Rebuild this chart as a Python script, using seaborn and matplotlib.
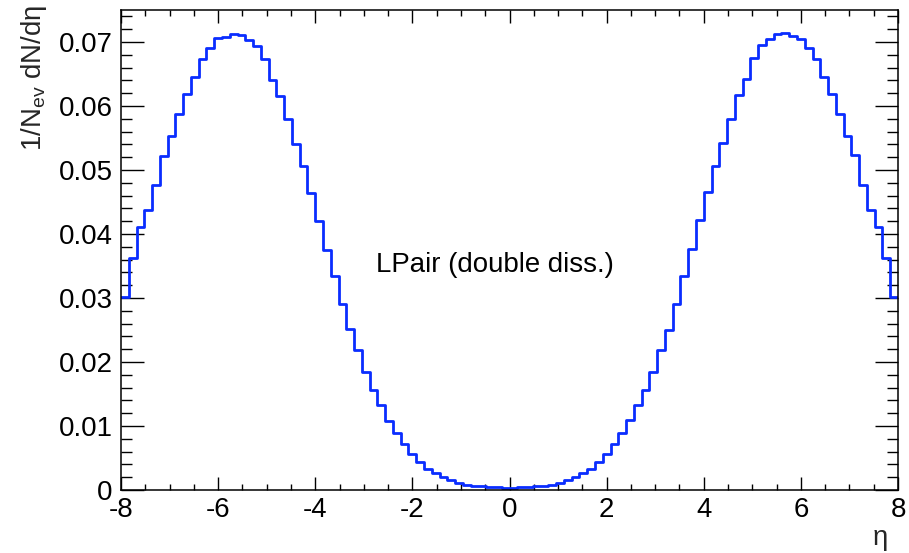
import numpy as np
import pandas as pd
import matplotlib
matplotlib.use("Agg")
import matplotlib.pyplot as plt
from matplotlib.ticker import MultipleLocator, FuncFormatter
import seaborn as sns

# ---- data ----
eta_min, eta_max, n_bins = -8.0, 8.0, 100
density = [
    0.0301, 0.0363, 0.0411, 0.0437, 0.0477, 0.0522, 0.0553, 0.0587, 0.0618, 0.0645,
    0.0674, 0.0691, 0.0706, 0.0708, 0.0713, 0.0711, 0.0703, 0.0694, 0.0674, 0.0641,
    0.0616, 0.0580, 0.0541, 0.0507, 0.0464, 0.0421, 0.0375, 0.0334, 0.0291, 0.0251,
    0.0218, 0.0185, 0.0156, 0.0133, 0.0108, 0.0089, 0.0072, 0.0057, 0.0044, 0.0033,
    0.0026, 0.0020, 0.0015, 0.0011, 0.0008, 0.0007, 0.00055, 0.00045, 0.0004, 0.00035,
    0.00035, 0.0004, 0.00045, 0.00055, 0.0007, 0.0008, 0.0011, 0.0015, 0.0020, 0.0026,
    0.0033, 0.0044, 0.0057, 0.0072, 0.0089, 0.0109, 0.0133, 0.0156, 0.0185, 0.0218,
    0.0250, 0.0291, 0.0334, 0.0376, 0.0422, 0.0465, 0.0507, 0.0542, 0.0580, 0.0617,
    0.0642, 0.0675, 0.0695, 0.0704, 0.0712, 0.0714, 0.0709, 0.0705, 0.0691, 0.0674,
    0.0645, 0.0619, 0.0587, 0.0553, 0.0523, 0.0477, 0.0438, 0.0411, 0.0363, 0.0301,
]
x_ticks = [-8, -6, -4, -2, 0, 2, 4, 6, 8]
y_ticks = [0, 0.01, 0.02, 0.03, 0.04, 0.05, 0.06, 0.07]
annotation = "LPair (double diss.)"

edges = np.linspace(eta_min, eta_max, n_bins + 1)
centers = 0.5 * (edges[:-1] + edges[1:])
df = pd.DataFrame({"eta": centers, "w": density})

sns.set_theme(style="white")
plt.rcParams["font.family"] = ["Liberation Sans", "DejaVu Sans"]
plt.rcParams["mathtext.fontset"] = "custom"
plt.rcParams["mathtext.rm"] = "Liberation Sans"
plt.rcParams["axes.unicode_minus"] = False

FS = 19.9
fig = plt.figure(figsize=(9.09, 5.53), dpi=100)
ax = fig.add_axes([121 / 909, 1 - 490 / 553, (898 - 121) / 909, (490 - 10) / 553])

sns.histplot(data=df, x="eta", weights="w", bins=n_bins, binrange=(eta_min, eta_max),
             element="step", fill=False, color="#0a2dff", linewidth=2.0, ax=ax)

ax.set_xlim(eta_min, eta_max)
ax.set_ylim(0, 0.075)
ax.set_xticks(x_ticks)
ax.set_yticks(y_ticks)
ax.xaxis.set_minor_locator(MultipleLocator(0.5))
ax.yaxis.set_minor_locator(MultipleLocator(0.002))
ax.xaxis.set_major_formatter(FuncFormatter(lambda v, p: f"{v:g}"))
ax.yaxis.set_major_formatter(FuncFormatter(lambda v, p: f"{v:g}"))

for s in ax.spines.values():
    s.set_color("black")
    s.set_linewidth(1.1)

ax.tick_params(axis="both", which="both", direction="in", top=True, right=True,
               bottom=True, left=True, colors="black", labelsize=FS)
ax.tick_params(axis="y", which="major", length=16.5, width=1.0, pad=6)
ax.tick_params(axis="y", which="minor", length=8, width=1.0)
ax.tick_params(axis="x", which="major", length=9.5, width=1.0, pad=5)
ax.tick_params(axis="x", which="minor", length=4.5, width=1.0)

ax.set_ylabel(r"1/N$_\mathregular{ev}$ dN/dη", fontsize=FS, loc="top", labelpad=7)
ax.set_xlabel("η", fontsize=FS, ha="right", va="top")
ax.xaxis.set_label_coords((888 - 121) / 777, -0.072)
ax.yaxis.label.set_y(1.01)

ax.text(-2.74, 0.0352, annotation, fontsize=FS, ha="left", va="center", color="black")

fig.savefig("out.png", dpi=100)
